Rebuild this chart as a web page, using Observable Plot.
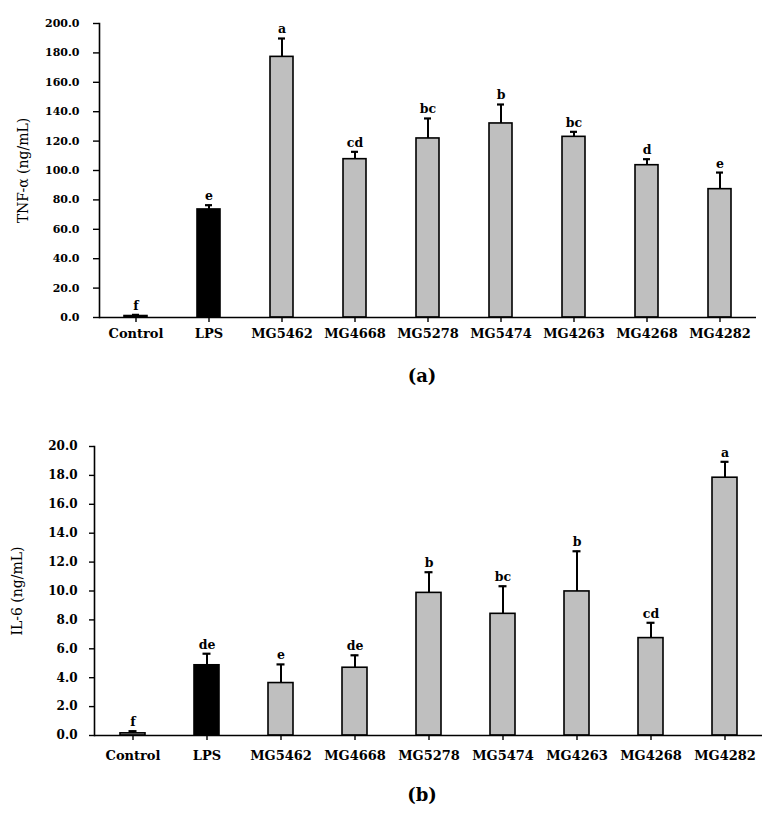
<!DOCTYPE html>
<html>
<head>
<meta charset="utf-8">
<script src="https://cdn.jsdelivr.net/npm/d3@7"></script>
<script src="https://cdn.jsdelivr.net/npm/@observablehq/plot@0.6"></script>
<style>
  html, body { margin: 0; padding: 0; background: #fff; }
  #root { position: relative; width: 776px; height: 817px; font-family: "DejaVu Serif", serif; }
  .panel { position: absolute; left: 0; }
  .plab { position: absolute; left: 0; width: 844px; text-align: center; font-weight: bold; font-size: 18px; font-family: "DejaVu Serif", serif; }
</style>
</head>
<body>
<div id="root">
  <div id="p1" class="panel" style="top:0px"></div>
  <div class="plab" style="top:365px">(a)</div>
  <div id="p2" class="panel" style="top:421px"></div>
  <div class="plab" style="top:784px">(b)</div>
</div>
<script>
const categories = ["Control", "LPS", "MG5462", "MG4668", "MG5278", "MG5474", "MG4263", "MG4268", "MG4282"];
const barColors = ["#bfbfbf", "#000000", "#bfbfbf", "#bfbfbf", "#bfbfbf", "#bfbfbf", "#bfbfbf", "#bfbfbf", "#bfbfbf"];

const tnfValues = [1.0, 73.5, 177.3, 107.7, 121.8, 132.0, 122.9, 103.6, 87.3];
const tnfErrors = [0.8, 2.9, 12.5, 5.0, 13.6, 12.9, 3.4, 4.1, 11.3];
const tnfLetters = ["f", "e", "a", "cd", "bc", "b", "bc", "d", "e"];
const tnfTicks = [0, 20, 40, 60, 80, 100, 120, 140, 160, 180, 200];

const il6Values = [0.15, 4.86, 3.63, 4.69, 9.87, 8.42, 9.97, 6.74, 17.84];
const il6Errors = [0.15, 0.80, 1.29, 0.86, 1.43, 1.91, 2.78, 1.06, 1.10];
const il6Letters = ["f", "de", "e", "de", "b", "bc", "b", "cd", "a"];
const il6Ticks = [0, 2, 4, 6, 8, 10, 12, 14, 16, 18, 20];

function makeChart(opts) {
  const data = categories.map((c, i) => ({
    cat: c, v: opts.values[i], e: opts.errors[i], top: opts.values[i] + opts.errors[i],
    letter: opts.letters[i], color: barColors[i]
  }));
  const pad = opts.paddingInner;
  return Plot.plot({
    width: 776,
    height: opts.height,
    marginLeft: opts.marginLeft,
    marginRight: opts.marginRight,
    marginTop: opts.marginTop,
    marginBottom: opts.marginBottom,
    style: { fontFamily: "DejaVu Serif, serif", background: "#fff", color: "#000" },
    x: { type: "band", domain: categories, paddingInner: pad, paddingOuter: pad / 2, label: null },
    y: { domain: opts.domain, label: null },
    marks: [
      Plot.barY(data, { x: "cat", y: "v", fill: "color", stroke: "#000", strokeWidth: 1.6 }),
      Plot.ruleX(data, { x: "cat", y1: "v", y2: "top", stroke: "#000", strokeWidth: 2 }),
      Plot.tickY(data, { x: "cat", y: "top", stroke: "#000", strokeWidth: 2.2, insetLeft: opts.capInset, insetRight: opts.capInset }),
      Plot.text(data, { x: "cat", y: "top", text: "letter", dy: -9, fontSize: 12.5, fontWeight: "bold", fill: "#000" }),
      Plot.ruleY([0], { stroke: "#000", strokeWidth: 1.6 }),
      Plot.frame({ anchor: "left", stroke: "#000", strokeWidth: 1.6 }),
      Plot.axisY({ ticks: opts.ticks, tickFormat: d => d.toFixed(1), tickSize: opts.yTickSize, tickPadding: opts.yTickPadding,
                   fontSize: opts.yFontSize, fontWeight: "bold", label: null, strokeWidth: 1.4 }),
      Plot.axisX({ tickSize: 5, tickPadding: opts.xTickPadding, fontSize: 13, fontWeight: "bold", label: null, strokeWidth: 1.4 }),
      Plot.text([opts.title], { frameAnchor: "left", textAnchor: "middle", dx: -opts.titleOffset, rotate: -90, fontSize: 14, fill: "black" })
    ]
  });
}

document.getElementById("p1").appendChild(makeChart({
  values: tnfValues, errors: tnfErrors, letters: tnfLetters, ticks: tnfTicks, domain: [0, 200],
  height: 345, marginLeft: 99, marginRight: 20, marginTop: 23, marginBottom: 28,
  paddingInner: 0.685, capInset: 8, yTickSize: 6, yTickPadding: 14, yFontSize: 11, xTickPadding: 6,
  title: "TNF-α (ng/mL)", titleOffset: 76
}));

document.getElementById("p2").appendChild(makeChart({
  values: il6Values, errors: il6Errors, letters: il6Letters, ticks: il6Ticks, domain: [0, 20],
  height: 342, marginLeft: 94, marginRight: 14, marginTop: 25, marginBottom: 28,
  paddingInner: 0.668, capInset: 8.5, yTickSize: 5, yTickPadding: 12, yFontSize: 12, xTickPadding: 10,
  title: "IL-6 (ng/mL)", titleOffset: 77
}));
</script>
</body>
</html>
